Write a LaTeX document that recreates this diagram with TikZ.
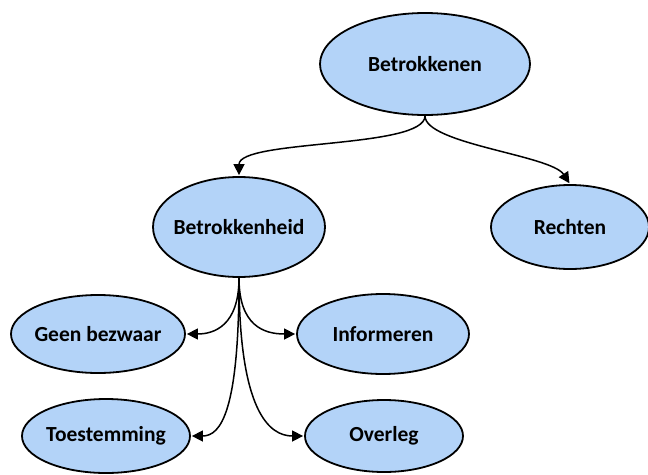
\documentclass[tikz,border=0pt]{standalone}
\usepackage{fontspec}
\setmainfont{Carlito}
\usetikzlibrary{shapes.geometric,arrows.meta}
\definecolor{nodefill}{RGB}{179,211,248}
\newcommand{\ovaltext}[1]{\makebox[0pt]{#1}}
\tikzset{
  oval/.style={ellipse, draw=black, line width=1.8pt, fill=nodefill, inner sep=0pt,
    font=\fontsize{21.5}{24}\selectfont\bfseries, text=black},
  conn/.style={line width=1.5pt, -{Triangle[length=11pt,width=11pt]}, shorten >=1pt}
}
\begin{document}
\begin{tikzpicture}[x=1pt,y=-1pt]
\useasboundingbox (0,0) rectangle (648,474);
\node[oval, minimum width=210pt, minimum height=102pt] (bk) at (425,64) {\ovaltext{Betrokkenen}};
\node[oval, minimum width=172pt, minimum height=100pt] (bh) at (239,227) {\ovaltext{Betrokkenheid}};
\node[oval, minimum width=158pt, minimum height=84pt] (re) at (570,227) {\ovaltext{Rechten}};
\node[oval, minimum width=174pt, minimum height=78pt] (gb) at (98,334) {\ovaltext{Geen bezwaar}};
\node[oval, minimum width=172pt, minimum height=80pt] (inf) at (383,334) {\ovaltext{Informeren}};
\node[oval, minimum width=168pt, minimum height=74pt] (ts) at (106,436) {\ovaltext{Toestemming}};
\node[oval, minimum width=158pt, minimum height=72pt] (ov) at (384,436) {\ovaltext{Overleg}};

\draw[conn] (bk.south) .. controls +(0,33) and +(0,-37) .. (bh.north);
\draw[conn] (bk.south) .. controls +(0,28) and +(-19,-29) .. (re.north);
\draw[conn] (bh.south) .. controls +(0,48) and +(28,0) .. (gb.east);
\draw[conn] (bh.south) .. controls +(0,48) and +(-32,0) .. (inf.west);
\draw[conn] (bh.south) .. controls +(0,133) and +(30,0) .. (ts.east);
\draw[conn] (bh.south) .. controls +(0,133) and +(-35,0) .. (ov.west);
\end{tikzpicture}
\end{document}
